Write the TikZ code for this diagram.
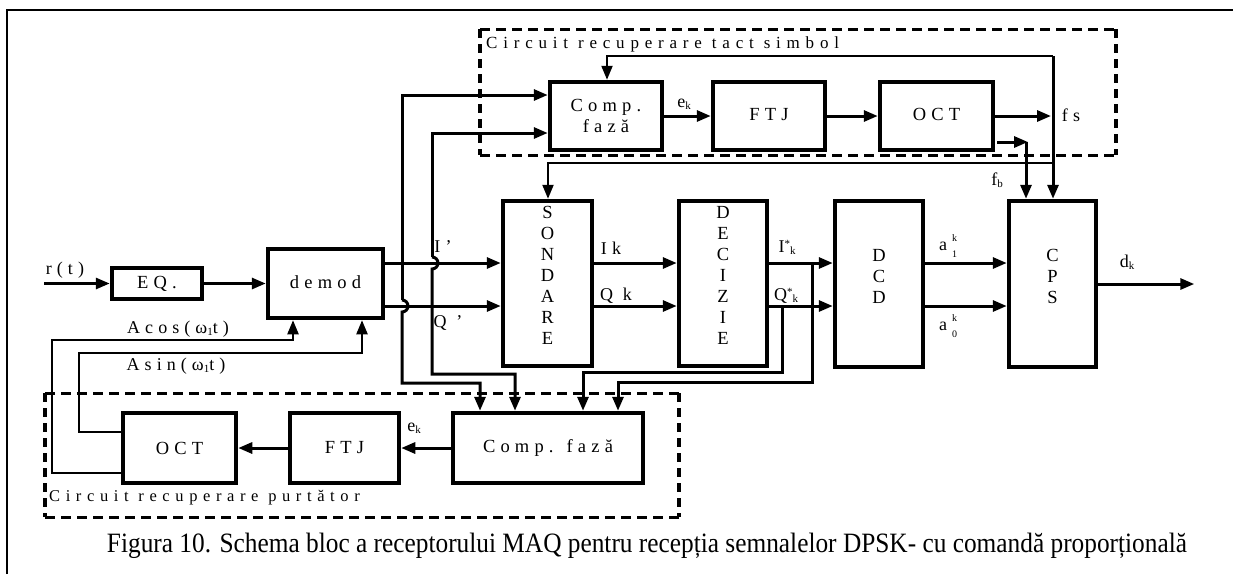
\documentclass[tikz,border=0pt]{standalone}
\usepackage{fontspec}
\usepackage{graphicx}
\setmainfont{Liberation Serif}
\newfontfamily\spfont[LetterSpace=28]{Liberation Serif}
\newfontfamily\lbfont[LetterSpace=28]{Liberation Serif}
\newfontfamily\grfont[LetterSpace=34]{Liberation Serif}
\usetikzlibrary{arrows.meta,calc}
\newcommand\subk[1]{\raisebox{-2pt}{\fontsize{11}{11}\selectfont #1}}
\newcommand\stk[2]{{\fontsize{10}{10}\selectfont\rlap{\raisebox{9pt}{#1}}\raisebox{-7pt}{#2}}}
\newcommand\vstk[1]{\raisebox{1.5pt}[0pt][0pt]{\begin{tabular}{@{}c@{}}#1\end{tabular}}}
\begin{document}
\begin{tikzpicture}[x=1pt,y=-1pt,
  blk/.style={draw,line width=4.5pt,inner sep=0pt,align=center,
    font=\spfont\fontsize{18.5}{21}\selectfont},
  conn/.style={line width=3pt},
  thinc/.style={line width=2.2pt},
  arr/.style={-{Triangle[length=14pt,width=11pt]}},
  lbl/.style={inner sep=0pt,font=\lbfont\fontsize{18}{18}\selectfont},
  dashh/.style={line width=3pt,dash pattern=on 10pt off 6pt},
  dashv/.style={line width=4.5pt,dash pattern=on 9pt off 6pt}]
\useasboundingbox (0,0) rectangle (1233,574);
% frame
\draw[line width=2pt] (7,574) -- (7,10) -- (1233,10);
% dashed groups
\draw[dashh] (480,29) -- (1116,29) (480,155) -- (1116,155);
\draw[dashv] (480,29) -- (480,155) (1116,29) -- (1116,155);
\draw[dashh] (45,393) -- (679,393) (45,517) -- (679,517);
\draw[dashv] (45,393) -- (45,517) (679,393) -- (679,517);
\node[lbl,anchor=west,font=\grfont\fontsize{17}{17}\selectfont] (tgrp) at (486,44) {Circuit recuperare tact simbol};
\node[lbl,anchor=west,font=\grfont\fontsize{16.5}{16.5}\selectfont] (bgrp) at (49,498) {Circuit recuperare purtător};
% blocks
\node[blk,minimum width=112,minimum height=68] (compA) at (606,116) {Comp.\\fază};
\node[blk,minimum width=112,minimum height=68] (ftjA) at (769,116) {\raisebox{3pt}{FTJ}};
\node[blk,minimum width=113,minimum height=68] (octA) at (936.5,116) {\raisebox{3pt}{OCT}};
\node[blk,minimum width=90,minimum height=31] (eq) at (157,283.5) {EQ.};
\node[blk,minimum width=115,minimum height=69] (demod) at (325.5,283.5) {\raisebox{2pt}{demod}};
\node[blk,minimum width=89,minimum height=165] (sond) at (547.5,283.5) {\vstk{S\\O\\N\\D\\A\\R\\E}};
\node[blk,minimum width=88,minimum height=165] (dec) at (723,283.5) {\vstk{D\\E\\C\\I\\Z\\I\\E}};
\node[blk,minimum width=88,minimum height=166] (dcd) at (879,284) {\vstk{D\\C\\D}};
\node[blk,minimum width=87,minimum height=166] (cps) at (1052.5,284) {\vstk{C\\P\\S}};
\node[blk,minimum width=113,minimum height=70] (octB) at (179.5,448) {OCT};
\node[blk,minimum width=109,minimum height=70] (ftjB) at (344.5,448) {FTJ};
\node[blk,minimum width=190,minimum height=70] (compB) at (548,448) {Comp. fază};
\coordinate (rin) at (44,283.5);
% top chain
\draw[conn,arr] (compA.east) -- (ftjA.west);
\draw[conn,arr] (ftjA.east) -- (octA.west);
\draw[conn,arr] (octA.east) -- (1051,116);
\draw[conn,arr] (1053,56) -- (cps.north -| 1053,0);
\draw[thinc,arr] (1053,56) -- (607,56) -- (compA.north -| 607,0);
\draw[conn,arr] (997,142) -- (1028,142);
\draw[conn,arr] (1026,142) -- (cps.north -| 1026,0);
\draw[thinc,arr] (1053,163) -- (548,163) -- (sond.north -| 548,0);
% input chain
\draw[conn,arr] (rin) -- (eq.west);
\draw[conn,arr] (eq.east) -- (demod.west |- eq.east);
\draw[conn,arr] (demod.east |- 0,263) -- (sond.west |- 0,263);
\draw[conn,arr] (demod.east |- 0,306) -- (sond.west |- 0,306);
% I' branch (x=402) and Q' branch (x=432)
\draw[conn,arr] (402,300) -- (402,95) -- (compA.west |- 0,95);
\draw[conn,arr] (402,300) arc[start angle=-90,end angle=90,radius=6] -- (402,383) -- (480,383) -- (compB.north -| 480,0);
\draw[conn,arr] (432,257) -- (432,133) -- (compA.west |- 0,133);
\draw[conn,arr] (432,257) arc[start angle=-90,end angle=90,radius=6] -- (432,374) -- (515,374) -- (compB.north -| 515,0);
% sondare -> decizie -> dcd -> cps
\draw[conn,arr] (sond.east |- 0,263) -- (dec.west |- 0,263);
\draw[conn,arr] (sond.east |- 0,306) -- (dec.west |- 0,306);
\draw[conn,arr] (dec.east |- 0,263) -- (dcd.west |- 0,263);
\draw[conn,arr] (dec.east |- 0,306) -- (dcd.west |- 0,306);
\draw[conn,arr] (812,263) -- (812,382) -- (618,382) -- (compB.north -| 618,0);
\draw[conn,arr] (782,306) -- (782,372) -- (583,372) -- (compB.north -| 583,0);
\draw[conn,arr] (dcd.east |- 0,263) -- (cps.west |- 0,263);
\draw[conn,arr] (dcd.east |- 0,306) -- (cps.west |- 0,306);
\draw[conn,arr] (cps.east) -- ++(96,0) coordinate (dout);
% carrier loop
\draw[conn,arr] (compB.west) -- (ftjB.east);
\draw[conn,arr] (ftjB.west) -- (octB.east);
\draw[thinc,arr] (octB.west |- 0,432) -- (79,432) -- (79,353) -- (362,353) -- (demod.south -| 362,0);
\draw[thinc,arr] (octB.west |- 0,473) -- (52,473) -- (52,340) -- (293,340) -- (demod.south -| 293,0);
% labels
\node[lbl] (lrt) at (65,270) {r(t)};
\node[lbl] (lek1) at (684,104) {e\subk{k}};
\node[lbl] (lfs) at (1071,115) {fs};
\node[lbl] (lfb) at (997,180) {f\subk{b}};
\node[lbl] (lI) at (443,247) {I’};
\node[lbl] (lQ) at (448,323) {Q ’};
\node[lbl] (lIk) at (611,248) {Ik};
\node[lbl] (lQk) at (616,296) {Q k};
\node[lbl] (lIs) at (787,247) {I\raisebox{5pt}{\fontsize{11}{11}\selectfont *}\subk{k}};
\node[lbl,fill=white,inner sep=1pt] (lQs) at (786,296) {Q\raisebox{5pt}{\fontsize{11}{11}\selectfont *}\subk{k}};
\node[lbl] (la1) at (948,246) {a\hspace{5pt}\stk{k}{1}};
\node[lbl] (la0) at (948,326) {a\hspace{5pt}\stk{k}{0}};
\node[lbl] (ldk) at (1127,262) {d\subk{k}};
\node[lbl] (lcos) at (178,329) {Acos(ω\subk{1}t)};
\node[lbl] (lsin) at (176,366) {Asin(ω\subk{1}t)};
\node[lbl] (lek2) at (414,428) {e\subk{k}};
% caption
\node[inner sep=0pt] (cap) at (647,546) {\resizebox{1080pt}{\height}{\fontsize{28}{28}\selectfont Figura 10. Schema bloc a receptorului MAQ pentru recepția semnalelor DPSK- cu comandă proporțională}};
\end{tikzpicture}
\end{document}
